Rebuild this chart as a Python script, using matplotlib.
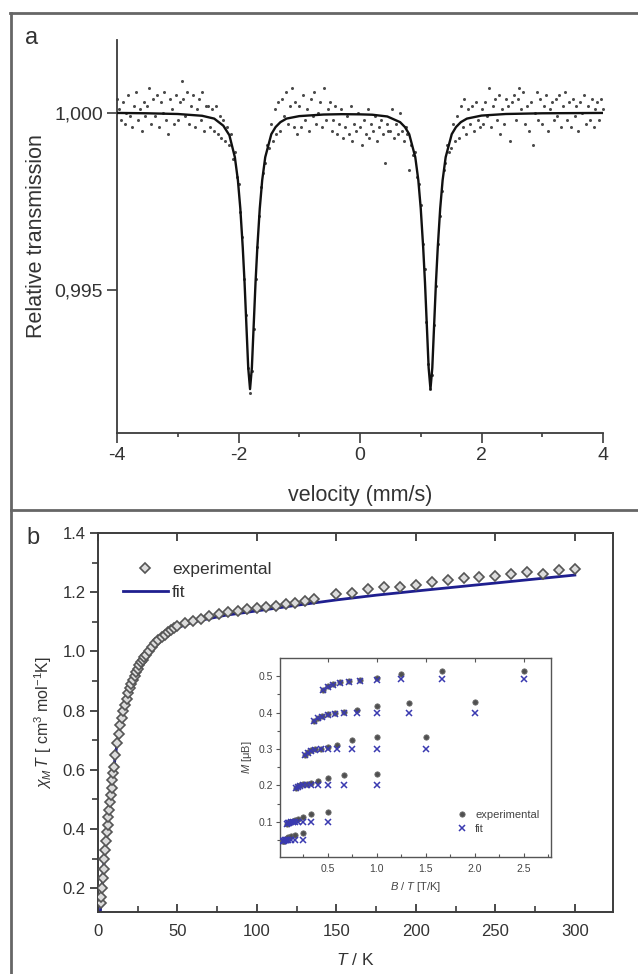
import numpy as np
import matplotlib
matplotlib.use("Agg")
import matplotlib.pyplot as plt
from matplotlib.lines import Line2D
from matplotlib.ticker import MultipleLocator, FixedLocator

plt.rcParams['font.family'] = ['Liberation Sans', 'DejaVu Sans']
plt.rcParams['mathtext.fontset'] = 'custom'
plt.rcParams['mathtext.rm'] = 'Liberation Sans'
plt.rcParams['mathtext.it'] = 'Liberation Sans:italic'
plt.rcParams['mathtext.bf'] = 'Liberation Sans:bold'

TXT = '#333333'
AXC = '#3c3c3c'

# ---------------- panel a: Moessbauer spectrum ----------------
# 257 equally spaced velocity channels (mm/s)
vel = np.linspace(-4, 4, 257)
# measured transmission, deviation from 1 in units of 1e-4
trans_dev = [
    4, 1, -2, 3, -3, 0, 5, -1, -4, 2, 6, -2, 1, -5, 3, -1,
    2, 7, -3, 4, -1, 5, -4, 3, 0, 6, -2, -6, 4, 1, -3, 5,
    -2, 3, 9, 4, -1, 6, -3, 2, 5, -4, 1, 4, -2, 6, -5, 2,
    2, -4, 1, -5, 2, -6, -1, -7, -2, -8, -4, -9, -6, -13, -11, -18,
    -20, -28, -35, -47, -57, -72, -79, -73, -61, -47, -38, -29, -21, -17, -14, -9,
    -10, -3, -8, 1, -6, 3, -5, 4, -1, 6, -3, 2, 7, -4, 3, -6,
    2, -4, 5, -2, 1, -5, 4, -1, 6, -3, 0, 3, -4, 7, -2, 1,
    3, -5, -2, 2, -6, -3, 1, -7, -4, -1, -6, 2, -8, -3, -5, 0,
    -4, -9, -2, -6, 1, -7, -3, -5, -1, -8, -4, -2, -6, -14, -3, -5,
    -5, 1, -7, -3, -6, 0, -5, -8, -4, -6, -16, -9, -12, -11, -18, -20,
    -26, -37, -44, -59, -71, -78, -74, -60, -49, -37, -29, -22, -16, -14, -9, -11,
    -10, -3, -8, -1, -7, 2, -4, 4, -6, 1, -3, 2, -5, 3, -2, -4,
    1, -3, 3, -1, 7, -4, 2, 4, -2, 5, -6, 1, -3, 4, 2, -8,
    3, 5, -2, 4, 7, 1, 6, -3, 2, -5, 3, -9, 0, 6, -2, 4,
    -3, 2, 5, -5, 1, 3, -2, 4, -1, 5, -4, 2, 6, -2, 3, -4,
    4, -1, 2, -5, 3, 0, 5, -3, 2, -2, 4, -4, 1, 3, -2, 4,
    1,
]
# fitted doublet, sampled points (mm/s, deviation in 1e-4)
fit_vel = [-4.0, -3.5, -3.0, -2.6, -2.4, -2.25, -2.15, -2.06, -2.01, -1.97,
           -1.93, -1.90, -1.87, -1.84, -1.81, -1.78, -1.75, -1.72, -1.69, -1.65,
           -1.61, -1.56, -1.46, -1.39, -1.31, -1.21, -1.0, -0.6, -0.3, 0.0,
           0.2, 0.45, 0.66, 0.74, 0.81, 0.91, 0.96, 1.0, 1.04, 1.07,
           1.10, 1.13, 1.16, 1.19, 1.22, 1.25, 1.28, 1.32, 1.36, 1.41,
           1.51, 1.58, 1.66, 1.76, 2.0, 2.4, 3.0, 3.5, 4.0]
fit_dev = [0.0, -0.1, -0.3, -0.8, -1.6, -3.6, -6.3, -12.5, -19, -27,
           -38, -48, -60, -72, -78, -72, -60, -48, -38, -27,
           -19, -12.5, -6, -4, -2.6, -1.6, -0.9, -0.45, -0.35, -0.4,
           -0.5, -1.0, -2.6, -4, -6, -12.5, -19, -27, -38, -48,
           -60, -72, -78, -72, -60, -48, -38, -27, -19, -12.5,
           -6, -4, -2.6, -1.6, -0.75, -0.3, -0.1, -0.05, 0.0]

# ---------------- panel b: chi*T vs T ----------------
T_exp = [1.8, 2.0, 2.5, 3.0, 3.5, 4.0, 4.5, 5.0, 5.5, 6.0, 6.5, 7.0, 7.5, 8.0, 8.5, 9.0, 9.5,
         10, 11, 12, 13, 14, 15, 16, 17, 18, 19, 20, 21, 22, 23, 24, 25, 26, 27, 28, 29, 30,
         32, 34, 36, 38, 40, 42, 44, 46, 48,
         50, 55, 60, 65, 70,
         76, 82, 88, 94, 100, 106, 112, 118, 124, 130, 136,
         150, 160, 170, 180, 190, 200, 210, 220, 230, 240, 250, 260, 270, 280, 290, 300]
chiT_exp = [0.15, 0.17, 0.20, 0.235, 0.265, 0.30, 0.33, 0.36, 0.39, 0.415, 0.44, 0.465, 0.49, 0.515, 0.54, 0.565, 0.59,
            0.61, 0.65, 0.69, 0.72, 0.75, 0.775, 0.80, 0.82, 0.84, 0.86, 0.875, 0.89, 0.905, 0.918, 0.93, 0.942,
            0.953, 0.963, 0.972, 0.98, 0.988,
            1.002, 1.015, 1.027, 1.038, 1.048, 1.057, 1.065, 1.072, 1.079,
            1.086, 1.095, 1.104, 1.111, 1.118,
            1.126, 1.133, 1.137, 1.143, 1.146, 1.149, 1.154, 1.160, 1.165, 1.171, 1.178,
            1.193, 1.197, 1.210, 1.217, 1.219, 1.225, 1.234, 1.241, 1.247, 1.250, 1.254, 1.261,
            1.267, 1.261, 1.275, 1.279]
T_fit = [1.5, 2, 3, 4, 5, 6, 7, 8, 9, 10, 12, 14, 16, 18, 20, 25, 30, 35, 40, 50,
         60, 80, 100, 125, 150, 175, 200, 250, 300]
chiT_fit = [0.12, 0.165, 0.235, 0.30, 0.36, 0.415, 0.465, 0.515, 0.565, 0.61, 0.69, 0.75,
            0.80, 0.84, 0.875, 0.94, 0.985, 1.02, 1.045, 1.08, 1.10, 1.122, 1.137, 1.156,
            1.174, 1.19, 1.204, 1.231, 1.258]

# ---------------- inset: M vs B/T ----------------
fields = [5, 4, 3, 2, 1, 0.5]
temps = [11, 10, 9, 8, 7, 6, 5, 4, 3, 2]
M_exp = [
    [0.463, 0.472, 0.479, 0.483, 0.486, 0.490, 0.496, 0.505, 0.513, 0.515],
    [0.376, 0.385, 0.390, 0.395, 0.399, 0.402, 0.406, 0.418, 0.425, 0.429],
    [0.283, 0.292, 0.297, 0.299, 0.301, 0.306, 0.310, 0.324, 0.332, 0.332],
    [0.193, 0.197, 0.200, 0.203, 0.205, 0.207, 0.212, 0.221, 0.228, 0.231],
    [0.094, 0.096, 0.098, 0.100, 0.102, 0.104, 0.108, 0.114, 0.120, 0.126],
    [0.046, 0.047, 0.048, 0.050, 0.052, 0.054, 0.057, 0.060, 0.064, 0.069],
]
M_fit = [
    [0.463, 0.471, 0.477, 0.481, 0.485, 0.488, 0.490, 0.491, 0.491, 0.491],
    [0.376, 0.384, 0.389, 0.393, 0.396, 0.398, 0.399, 0.400, 0.400, 0.400],
    [0.283, 0.290, 0.294, 0.297, 0.299, 0.300, 0.301, 0.301, 0.301, 0.301],
    [0.193, 0.196, 0.198, 0.200, 0.201, 0.202, 0.202, 0.202, 0.202, 0.202],
    [0.094, 0.096, 0.097, 0.098, 0.099, 0.100, 0.100, 0.100, 0.100, 0.100],
    [0.046, 0.047, 0.048, 0.049, 0.050, 0.050, 0.050, 0.050, 0.050, 0.050],
]

W, H = 638, 974
fig = plt.figure(figsize=(W / 100, H / 100), dpi=100)


def box(l, t, r, b):
    return [l / W, 1 - b / H, (r - l) / W, (b - t) / H]


# outer frame lines
frame_kw = dict(color='#666666', lw=2.0, transform=fig.transFigure)
fig.add_artist(Line2D([10 / W, 1], [1 - 13 / H, 1 - 13 / H], **frame_kw))
fig.add_artist(Line2D([11 / W, 11 / W], [0, 1 - 13 / H], **frame_kw))
fig.add_artist(Line2D([11 / W, 1], [1 - 510 / H, 1 - 510 / H], **frame_kw))

fig.text(32 / W, 1 - 38 / H, 'a', fontsize=17, color=TXT, ha='center', va='center')
fig.text(33 / W, 1 - 538 / H, 'b', fontsize=17, color=TXT, ha='center', va='center')

# ---- panel a ----
ax1 = fig.add_axes(box(117, 40, 603, 433))
trans = 1 + np.array(trans_dev) * 1e-4
ax1.plot(vel, trans, 'o', ms=2.2, color='#4a4a4a', mec='none', clip_on=False, zorder=2)
ax1.plot(fit_vel, 1 + np.array(fit_dev) * 1e-4, '-', color='#111111', lw=1.7, zorder=3)
ax1.set_xlim(-4, 4)
ax1.set_ylim(0.99096, 1.00206)
ax1.spines['top'].set_visible(False)
ax1.spines['right'].set_visible(False)
for s in ('left', 'bottom'):
    ax1.spines[s].set_color(AXC)
    ax1.spines[s].set_linewidth(1.3)
ax1.set_yticks([0.995, 1.0])
ax1.set_yticklabels(['0,995', '1,000'])
ax1.set_xticks([-4, -2, 0, 2, 4])
ax1.set_xticklabels(['-4', '-2', '0', '2', '4'])
ax1.xaxis.set_minor_locator(FixedLocator([-3, -1, 1, 3]))
ax1.tick_params(axis='both', which='major', direction='out', length=7, width=1.2,
                color=AXC, labelsize=14, labelcolor=TXT, pad=3)
ax1.tick_params(axis='x', which='minor', direction='out', length=3, width=1.2, color=AXC)
ax1.set_xlabel('velocity (mm/s)', fontsize=15.5, color=TXT, labelpad=15)
ax1.set_ylabel('Relative transmission', fontsize=15.5, color=TXT, labelpad=5)
ax1.patch.set_alpha(0)

# ---- panel b ----
ax2 = fig.add_axes(box(98, 533, 613, 912))
ax2.plot(T_fit, chiT_fit, '-', color='#1f1f8f', lw=2.0, zorder=2, label='fit')
ax2.plot(T_exp, chiT_exp, 'D', ms=5.6, mfc='#dcdcdc', mec='#555555', mew=1.2,
         ls='none', zorder=3, label='experimental')
ax2.set_xlim(0, 324)
ax2.set_ylim(0.12, 1.4)
for s in ax2.spines.values():
    s.set_color(AXC)
    s.set_linewidth(1.4)
ax2.xaxis.set_major_locator(MultipleLocator(50))
ax2.xaxis.set_minor_locator(MultipleLocator(25))
ax2.set_yticks([0.2, 0.4, 0.6, 0.8, 1.0, 1.2, 1.4])
ax2.yaxis.set_minor_locator(FixedLocator([0.3, 0.5, 0.7, 0.9, 1.1, 1.3]))
ax2.tick_params(axis='x', which='major', direction='in', length=6, width=1.3, color=AXC,
                top=True, labelsize=12, labelcolor=TXT, pad=9)
ax2.tick_params(axis='x', which='minor', direction='in', length=4, width=1.2, color=AXC, top=False)
ax2.tick_params(axis='y', which='major', direction='out', length=6, width=1.3, color=AXC,
                labelsize=12, labelcolor=TXT, pad=3)
ax2.tick_params(axis='y', which='minor', direction='out', length=4, width=1.2, color=AXC)
ax2.set_xlabel('$T$ / K', fontsize=12.5, color=TXT, labelpad=9)
ax2.set_ylabel(r'$\chi_M\,T$ [ cm$^3$ mol$^{-1}$K]', fontsize=11.5, color=TXT, labelpad=6)

h_exp = Line2D([], [], marker='D', ms=5.6, mfc='#dcdcdc', mec='#555555', mew=1.2, ls='none')
h_fit = Line2D([], [], color='#1f1f8f', lw=2.0)
ax2.legend([h_exp, h_fit], ['experimental', 'fit'], loc='upper left',
           bbox_to_anchor=(0.048, 0.923), frameon=False, fontsize=12.5, handlelength=2.6,
           handletextpad=0.25, labelspacing=0.42, borderpad=0, borderaxespad=0,
           labelcolor=TXT, numpoints=1)

# ---- inset ----
ax3 = fig.add_axes(box(280, 658, 551, 857))
for k, B in enumerate(fields):
    bt = [B / t for t in temps]
    ax3.plot(bt, M_exp[k], 'o', ms=3.8, mfc='#505050', mec='#6a6a6a', mew=0.6, ls='none', zorder=3)
    ax3.plot(bt, M_fit[k], 'x', ms=3.8, mew=1.1, color='#3a3ab0', ls='none', zorder=4)
ax3.set_xlim(0.015, 2.78)
ax3.set_ylim(0.003, 0.55)
for s in ax3.spines.values():
    s.set_color('#555555')
    s.set_linewidth(1.0)
ax3.set_xticks([0.5, 1.0, 1.5, 2.0, 2.5])
ax3.xaxis.set_minor_locator(FixedLocator([0.25, 0.75, 1.25, 1.75, 2.25, 2.75]))
ax3.set_yticks([0.1, 0.2, 0.3, 0.4, 0.5])
ax3.yaxis.set_minor_locator(FixedLocator([0.05, 0.15, 0.25, 0.35, 0.45]))
ax3.tick_params(axis='x', which='major', direction='in', length=3, width=0.8, color='#555555',
                top=True, labelsize=7.5, labelcolor='#444444', pad=5)
ax3.tick_params(axis='x', which='minor', direction='in', length=2, width=0.8, color='#555555', top=False)
ax3.tick_params(axis='y', which='major', direction='out', length=3, width=0.8, color='#555555',
                labelsize=7.5, labelcolor='#444444', pad=2)
ax3.tick_params(axis='y', which='minor', direction='out', length=2, width=0.8, color='#555555')
ax3.set_xlabel('$B$ / $T$ [T/K]', fontsize=8, color='#444444', labelpad=4)
ax3.set_ylabel('$M$ [μB]', fontsize=8, color='#444444', labelpad=3)

i_exp = Line2D([], [], marker='o', ms=3.8, mfc='#505050', mec='#6a6a6a', mew=0.6, ls='none')
i_fit = Line2D([], [], marker='x', ms=3.8, mew=1.1, color='#3a3ab0', ls='none')
ax3.legend([i_exp, i_fit], ['experimental', 'fit'], loc='upper left',
           bbox_to_anchor=(0.65, 0.235), frameon=False, fontsize=8, handlelength=1.0,
           handletextpad=0.7, labelspacing=0.35, borderpad=0, borderaxespad=0,
           labelcolor='#444444', numpoints=1)

fig.savefig('out.png', dpi=100)
